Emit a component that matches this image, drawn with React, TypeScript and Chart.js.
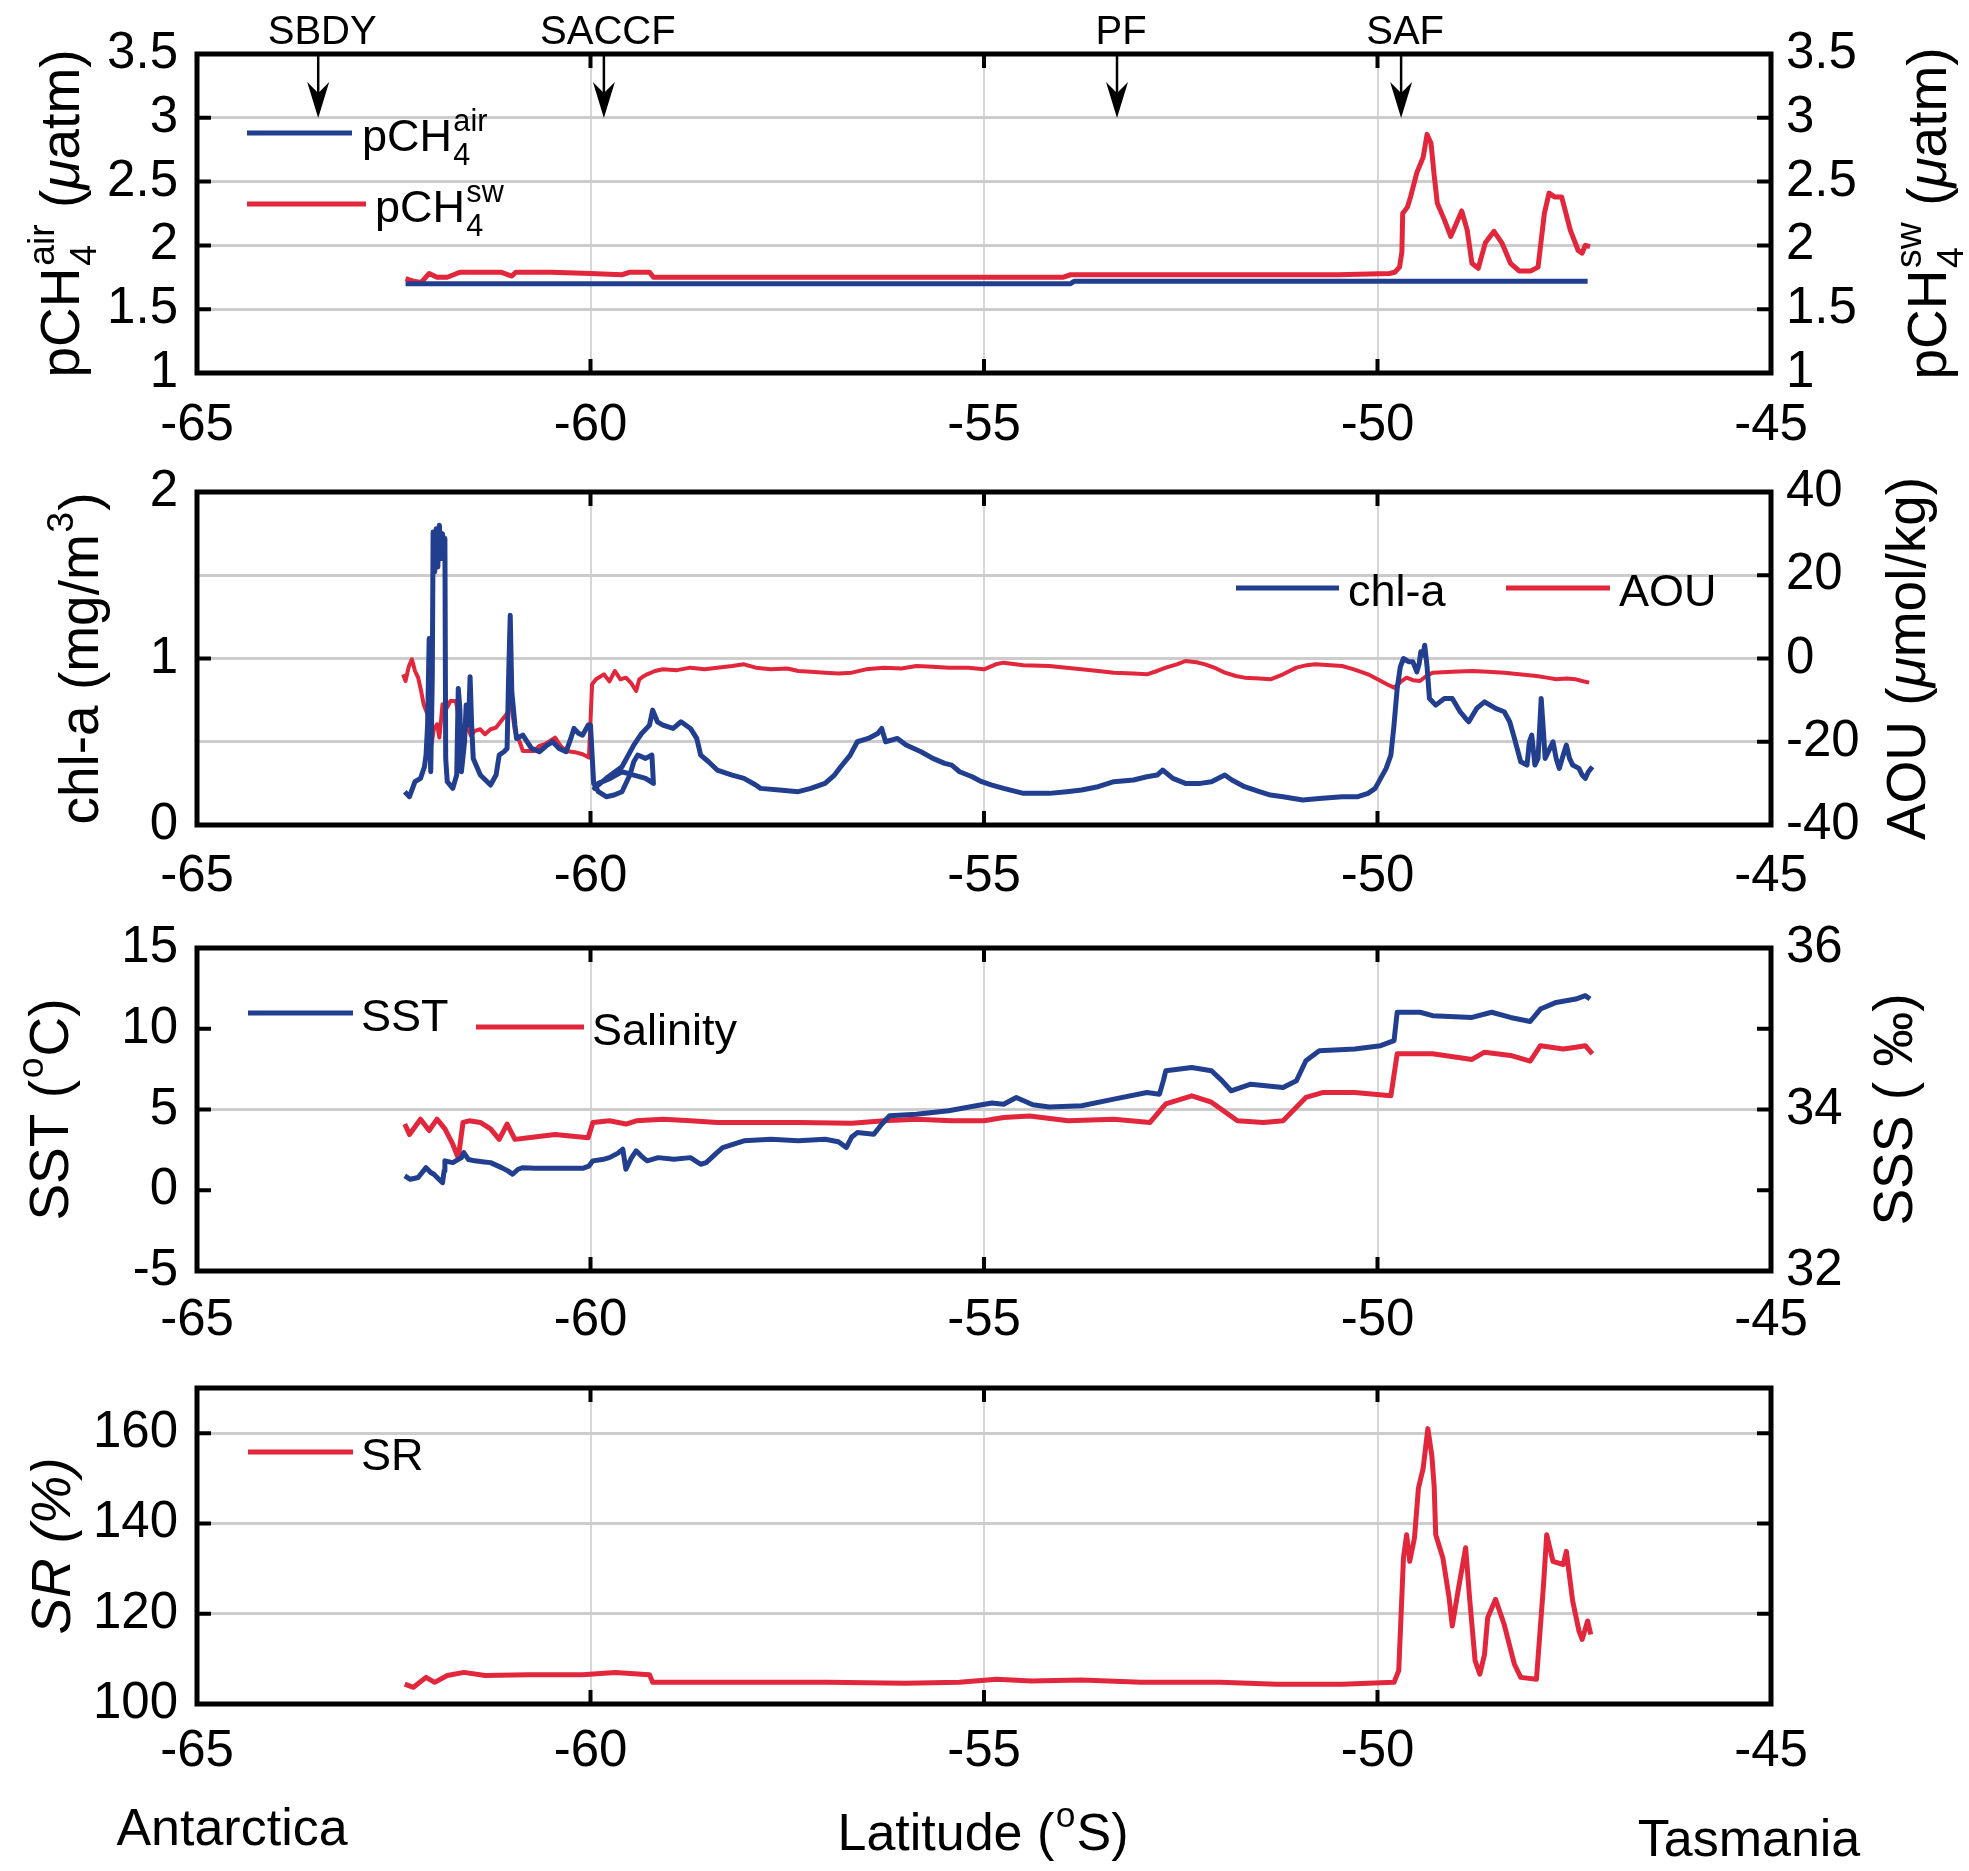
import { useEffect, useRef } from 'react';
import { Chart, registerables } from 'chart.js';

Chart.register(...registerables);

const FONT = '"Liberation Sans", Arial, Helvetica, sans-serif';
const BLUE = '#223f8f';
const RED = '#e2263b';
const GRID_H = '#cccccc';
const GRID_V = '#d6d6d6';

// ---------------- data ----------------
const LAT_AIR = [-62.35, -57.0, -53.9, -53.85, -47.33];
const PCH4_AIR = [1.70, 1.70, 1.70, 1.72, 1.72];

const LAT_SW = [
  -62.35, -62.25, -62.15, -62.05, -61.95, -61.82, -61.70, -61.65, -61.30, -61.14,
  -61.00, -60.95, -60.50, -60.00, -59.60, -59.50, -59.25, -59.20, -58.50, -57.00,
  -55.50, -54.00, -53.90, -52.00, -50.50, -49.85, -49.78, -49.72, -49.69, -49.68,
  -49.62, -49.58, -49.50, -49.42, -49.37, -49.32, -49.28, -49.24, -49.15, -49.07,
  -49.02, -48.93, -48.86, -48.80, -48.72, -48.63, -48.52, -48.42, -48.31, -48.20,
  -48.05, -47.96, -47.88, -47.82, -47.75, -47.66, -47.55, -47.45, -47.40, -47.36,
  -47.30,
];
const PCH4_SW = [
  1.74, 1.72, 1.71, 1.78, 1.75, 1.75, 1.78, 1.79, 1.79, 1.79,
  1.76, 1.79, 1.79, 1.78, 1.77, 1.79, 1.79, 1.75, 1.75, 1.75,
  1.75, 1.75, 1.77, 1.77, 1.77, 1.78, 1.79, 1.83, 1.95, 2.25,
  2.30, 2.38, 2.57, 2.69, 2.87, 2.80, 2.55, 2.33, 2.20, 2.07,
  2.14, 2.27, 2.12, 1.86, 1.82, 2.02, 2.11, 2.02, 1.86, 1.80,
  1.80, 1.83, 2.25, 2.41, 2.38, 2.38, 2.12, 1.96, 1.94, 2.00,
  1.99,
];

const LAT_CHL = [
  -62.36, -62.30, -62.23, -62.16, -62.11, -62.09, -62.07, -62.05, -62.04, -62.03, -62.01,
  -62.00, -61.98, -61.96, -61.94, -61.92, -61.90, -61.88, -61.86, -61.85, -61.84, -61.82,
  -61.75, -61.70, -61.68, -61.66, -61.64, -61.60, -61.58, -61.55, -61.53, -61.51, -61.49,
  -61.40, -61.27, -61.20, -61.16, -61.10, -61.06, -61.04, -61.02, -61.00, -60.96, -60.94,
  -60.86, -60.75, -60.65, -60.55, -60.48, -60.40, -60.31, -60.25, -60.21, -60.15, -60.10,
  -60.03, -60.00,
  -59.96, -59.90, -59.80, -59.70, -59.60, -59.50, -59.45, -59.40, -59.30, -59.22, -59.20,
  -59.30, -59.45, -59.60, -59.75, -59.90, -59.95,
  -59.80, -59.60, -59.45, -59.35, -59.25, -59.21, -59.15, -59.08,
  -58.95, -58.85, -58.73, -58.65, -58.60, -58.50, -58.39, -58.20, -58.05, -57.90,
  -57.84, -57.60, -57.36, -57.20, -57.02, -56.90, -56.82, -56.70, -56.61, -56.47,
  -56.35, -56.30, -56.25, -56.10, -55.99, -55.80, -55.65, -55.50, -55.41, -55.31,
  -55.15, -55.03, -54.90, -54.75, -54.50, -54.17, -53.95, -53.76, -53.55, -53.35,
  -53.10, -52.93, -52.80, -52.73, -52.60, -52.44, -52.25, -52.11, -51.94, -51.85,
  -51.69, -51.50, -51.36, -51.20, -50.95, -50.70, -50.45, -50.25, -50.12, -50.03,
  -49.96, -49.89, -49.83, -49.79, -49.75, -49.71, -49.67, -49.60, -49.55, -49.50,
  -49.47, -49.45, -49.42, -49.40, -49.37, -49.34, -49.26, -49.15, -49.05, -48.95,
  -48.88, -48.84, -48.74, -48.64, -48.50, -48.39, -48.32, -48.26, -48.18, -48.10,
  -48.07, -48.04, -48.00, -47.96, -47.92, -47.89, -47.87, -47.82, -47.77, -47.73,
  -47.69, -47.64, -47.60, -47.56, -47.52, -47.44, -47.40, -47.36, -47.32, -47.27,
];
const CHL_A = [
  0.20, 0.17, 0.26, 0.28, 0.35, 0.42, 0.60, 1.12, 0.50, 0.32, 0.90,
  1.76, 1.52, 1.78, 1.55, 1.80, 1.60, 1.75, 1.65, 1.72, 0.40, 0.26,
  0.22, 0.30, 0.82, 0.70, 0.32, 0.50, 0.72, 0.60, 0.89, 0.60, 0.40,
  0.30, 0.24, 0.30, 0.42, 0.44, 0.46, 0.90, 1.26, 0.80, 0.60, 0.52,
  0.54, 0.46, 0.44, 0.48, 0.50, 0.46, 0.44, 0.52, 0.58, 0.55, 0.54,
  0.60, 0.60,
  0.25, 0.20, 0.17, 0.18, 0.20, 0.30, 0.38, 0.42, 0.40, 0.42, 0.25,
  0.28, 0.30, 0.32, 0.28, 0.25, 0.22,
  0.28, 0.35, 0.48, 0.55, 0.60, 0.69, 0.62, 0.60,
  0.58, 0.62, 0.58, 0.52, 0.42, 0.38, 0.33, 0.30, 0.28, 0.24,
  0.22, 0.21, 0.20, 0.22, 0.25, 0.30, 0.35, 0.42, 0.50, 0.52,
  0.55, 0.58, 0.50, 0.52, 0.48, 0.44, 0.40, 0.37, 0.36, 0.32,
  0.29, 0.26, 0.24, 0.22, 0.19, 0.19, 0.20, 0.21, 0.23, 0.26,
  0.27, 0.29, 0.30, 0.33, 0.28, 0.25, 0.25, 0.26, 0.30, 0.27,
  0.23, 0.20, 0.18, 0.17, 0.15, 0.16, 0.17, 0.17, 0.19, 0.22,
  0.28, 0.34, 0.42, 0.60, 0.82, 0.95, 1.00, 0.98, 0.98, 0.92,
  0.97, 1.04, 1.02, 1.08, 0.95, 0.76, 0.72, 0.76, 0.76, 0.68,
  0.64, 0.62, 0.70, 0.74, 0.70, 0.68, 0.62, 0.52, 0.38, 0.36,
  0.50, 0.54, 0.36, 0.40, 0.76, 0.55, 0.40, 0.45, 0.50, 0.40,
  0.34, 0.42, 0.48, 0.40, 0.36, 0.34, 0.30, 0.28, 0.32, 0.35,
];

const LAT_AOU = [
  -62.38, -62.35, -62.31, -62.27, -62.23, -62.19, -62.15, -62.12, -62.08, -62.05,
  -62.02, -61.99, -61.95, -61.92, -61.88, -61.83, -61.78, -61.71, -61.67, -61.64,
  -61.61, -61.58, -61.52, -61.47, -61.40, -61.34, -61.27, -61.20, -61.10, -61.05,
  -61.03, -61.00, -60.96, -60.90, -60.86, -60.72, -60.65, -60.58, -60.45, -60.38,
  -60.31, -60.20, -60.10, -60.02, -60.00, -59.98, -59.93, -59.83, -59.76, -59.69,
  -59.62, -59.55, -59.48, -59.42, -59.38, -59.32, -59.28, -59.18, -59.08, -58.90,
  -58.73, -58.55, -58.39, -58.20, -58.05, -57.90, -57.71, -57.50, -57.36, -57.20,
  -57.02, -56.85, -56.68, -56.50, -56.27, -56.05, -55.86, -55.65, -55.45, -55.20,
  -55.00, -54.85, -54.75, -54.50, -54.17, -53.95, -53.76, -53.55, -53.35, -53.10,
  -52.93, -52.80, -52.69, -52.55, -52.44, -52.30, -52.19, -52.05, -51.94, -51.80,
  -51.69, -51.50, -51.36, -51.20, -51.03, -50.90, -50.79, -50.60, -50.45, -50.30,
  -50.12, -50.00, -49.88, -49.79, -49.70, -49.63, -49.55, -49.46, -49.38, -49.30,
  -49.05, -48.80, -48.60, -48.39, -48.20, -47.98, -47.85, -47.73, -47.60, -47.48,
  -47.40, -47.31,
];
const AOU = [
  -3.8, -5.4, -2.0, -0.2, -3.0, -4.6, -8.0, -11.0, -13.0, -14.2,
  -20.6, -17.0, -15.8, -19.0, -11.0, -12.0, -10.2, -10.2, -15.0, -23.0,
  -19.0, -15.8, -18.5, -17.4, -17.0, -18.2, -17.0, -16.6, -14.2, -13.0,
  -9.4, -12.0, -17.4, -20.0, -22.2, -22.2, -21.0, -20.6, -19.0, -21.0,
  -22.2, -22.5, -23.0, -23.8, -15.0, -6.2, -5.0, -3.8, -5.5, -3.0,
  -5.0, -4.6, -6.0, -7.8, -5.0, -4.2, -3.8, -3.0, -2.6, -2.8,
  -2.2, -2.6, -2.2, -1.8, -1.4, -2.2, -2.6, -2.4, -3.0, -3.2,
  -3.4, -3.6, -3.4, -2.6, -2.2, -2.4, -1.8, -2.0, -2.2, -2.2,
  -2.6, -1.4, -1.0, -1.6, -1.8, -2.2, -2.6, -3.0, -3.4, -3.6,
  -3.8, -3.0, -2.2, -1.4, -0.6, -0.9, -1.4, -2.4, -3.4, -4.2,
  -4.6, -4.8, -5.0, -3.8, -2.2, -1.6, -1.4, -1.6, -1.8, -2.6,
  -3.8, -5.0, -6.2, -7.0, -5.5, -4.6, -5.2, -5.4, -4.2, -3.4,
  -3.2, -3.0, -3.2, -3.4, -3.8, -4.2, -4.6, -5.0, -4.8, -5.0,
  -5.4, -5.8,
];

const LAT_SST = [
  -62.36, -62.29, -62.19, -62.09, -62.03, -61.99, -61.93, -61.88, -61.86, -61.85,
  -61.75, -61.64, -61.61, -61.55, -61.47, -61.35, -61.27, -61.13, -61.05, -60.99,
  -60.92, -60.86, -60.70, -60.45, -60.20, -60.10, -60.02, -59.97, -59.85, -59.76,
  -59.65, -59.59, -59.55, -59.48, -59.42, -59.35, -59.28, -59.14, -58.94, -58.73,
  -58.60, -58.53, -58.40, -58.32, -58.05, -57.71, -57.36, -57.02, -56.85, -56.75,
  -56.68, -56.61, -56.40, -56.30, -56.20, -55.86, -55.45, -55.10, -54.90, -54.75,
  -54.59, -54.38, -54.17, -53.76, -53.35, -52.93, -52.77, -52.72, -52.69, -52.36,
  -52.11, -51.98, -51.86, -51.61, -51.20, -51.03, -50.91, -50.74, -50.29, -49.96,
  -49.79, -49.75, -49.46, -49.30, -48.80, -48.55, -48.31, -48.06, -47.93, -47.73,
  -47.48, -47.36, -47.30,
];
const SST = [
  0.89, 0.68, 0.79, 1.40, 1.10, 0.99, 0.70, 0.47, 1.20, 1.82,
  1.71, 2.02, 2.33, 1.90, 1.82, 1.75, 1.71, 1.40, 1.20, 0.99,
  1.30, 1.40, 1.36, 1.36, 1.36, 1.36, 1.50, 1.82, 1.90, 2.02,
  2.30, 2.54, 1.30, 2.00, 2.44, 2.10, 1.82, 2.02, 1.92, 2.02,
  1.61, 1.71, 2.30, 2.64, 3.06, 3.16, 3.06, 3.16, 3.00, 2.64,
  3.30, 3.57, 3.47, 4.09, 4.61, 4.71, 4.92, 5.23, 5.40, 5.33,
  5.74, 5.29, 5.16, 5.23, 5.64, 6.05, 5.95, 6.80, 7.40, 7.60,
  7.40, 6.80, 6.16, 6.57, 6.36, 6.78, 8.02, 8.64, 8.74, 8.95,
  9.26, 11.02, 11.02, 10.81, 10.70, 11.02, 10.70, 10.45, 11.22, 11.63,
  11.84, 12.05, 11.84,
];

const LAT_SSS = [
  -62.36, -62.30, -62.16, -62.05, -61.95, -61.85, -61.75, -61.68, -61.62, -61.54,
  -61.40, -61.27, -61.16, -61.06, -60.96, -60.79, -60.45, -60.03, -59.97, -59.76,
  -59.55, -59.42, -59.08, -58.73, -58.39, -58.05, -57.36, -56.68, -56.27, -55.86,
  -55.41, -55.00, -54.75, -54.42, -53.93, -53.35, -52.89, -52.69, -52.36, -52.11,
  -51.78, -51.45, -51.20, -50.91, -50.70, -50.29, -49.83, -49.75, -49.30, -48.80,
  -48.64, -48.31, -48.06, -47.93, -47.64, -47.48, -47.36, -47.27,
];
const SSS = [
  33.82, 33.69, 33.88, 33.74, 33.88, 33.76, 33.57, 33.40, 33.84, 33.86,
  33.84, 33.76, 33.63, 33.82, 33.63, 33.65, 33.69, 33.65, 33.84, 33.86,
  33.82, 33.86, 33.88, 33.86, 33.84, 33.84, 33.84, 33.83, 33.86, 33.88,
  33.86, 33.86, 33.90, 33.92, 33.86, 33.88, 33.84, 34.07, 34.17, 34.09,
  33.86, 33.84, 33.86, 34.15, 34.21, 34.21, 34.17, 34.69, 34.69, 34.62,
  34.71, 34.67, 34.60, 34.79, 34.75, 34.77, 34.79, 34.69,
];

const LAT_SR = [
  -62.36, -62.25, -62.09, -61.98, -61.82, -61.61, -61.34, -60.79, -60.10, -59.69,
  -59.25, -59.21, -58.73, -58.05, -57.00, -56.00, -55.31, -54.84, -54.40, -53.76,
  -53.00, -52.00, -51.28, -50.45, -49.79, -49.73, -49.67, -49.63, -49.59, -49.53,
  -49.48, -49.42, -49.36, -49.31, -49.28, -49.26, -49.17, -49.09, -49.05, -48.97,
  -48.88, -48.83, -48.76, -48.70, -48.64, -48.60, -48.50, -48.39, -48.26, -48.18,
  -47.98, -47.89, -47.85, -47.77, -47.64, -47.60, -47.52, -47.44, -47.40, -47.33,
  -47.29,
];
const SR = [
  104.4, 103.7, 105.9, 104.8, 106.3, 107.0, 106.3, 106.5, 106.5, 107.0,
  106.5, 104.8, 104.8, 104.8, 104.8, 104.6, 104.8, 105.5, 105.1, 105.3,
  104.8, 104.8, 104.4, 104.4, 104.8, 107.4, 132.4, 137.5, 131.6, 136.8,
  147.8, 152.2, 161.0, 155.1, 148.2, 137.5, 132.4, 123.5, 117.3, 125.7,
  134.6, 123.5, 109.6, 106.6, 111.0, 119.1, 123.2, 117.6, 108.8, 105.9,
  105.5, 126.5, 137.5, 131.6, 130.9, 133.8, 122.8, 116.2, 114.3, 118.4,
  115.4,
];

const LAT_MIN = -65;
const LAT_MAX = -45;
const LAT_STEP = 5;
const LAT_GRID = [-60, -55, -50];

const FRONT_NAMES = ['SBDY', 'SACCF', 'PF', 'SAF'];
const FRONT_LATS = [-63.46, -59.83, -53.31, -49.70];

const BOTTOM_LEFT = 'Antarctica';
const BOTTOM_RIGHT = 'Tasmania';

// ---------------- rich text helpers ----------------
type Seg = { t?: string; sup?: string; sub?: string; it?: boolean };

const TICK_SIZE = 51;
const LEG_SIZE = 45;
const TITLE_SIZE = 55;
const W = 1969;
const PLOT_L = 197;
const PLOT_R = 1771;

function setFont(ctx: CanvasRenderingContext2D, size: number, it?: boolean) {
  ctx.font = `${it ? 'italic ' : ''}${size}px ${FONT}`;
}

function segWidth(ctx: CanvasRenderingContext2D, s: Seg, size: number): number {
  if (s.t !== undefined) {
    setFont(ctx, size, s.it);
    return ctx.measureText(s.t).width;
  }
  const sm = size * 0.68;
  setFont(ctx, sm, s.it);
  const a = s.sup ? ctx.measureText(s.sup).width : 0;
  const b = s.sub ? ctx.measureText(s.sub).width : 0;
  return Math.max(a, b) + size * 0.05;
}

function drawRich(ctx: CanvasRenderingContext2D, segs: Seg[], x: number, y: number, size: number, align: 'left' | 'center') {
  const total = segs.reduce((w, s) => w + segWidth(ctx, s, size), 0);
  let cx = align === 'center' ? x - total / 2 : x;
  ctx.textAlign = 'left';
  ctx.textBaseline = 'alphabetic';
  for (const s of segs) {
    const w = segWidth(ctx, s, size);
    if (s.t !== undefined) {
      setFont(ctx, size, s.it);
      ctx.fillText(s.t, cx, y);
    } else {
      setFont(ctx, size * 0.68, s.it);
      if (s.sup) ctx.fillText(s.sup, cx + size * 0.03, y - size * 0.45);
      if (s.sub) ctx.fillText(s.sub, cx + size * 0.03, y + size * 0.3);
    }
    cx += w;
  }
}

function drawRotated(ctx: CanvasRenderingContext2D, segs: Seg[], bx: number, cy: number, size: number) {
  ctx.save();
  ctx.translate(bx, cy);
  ctx.rotate(-Math.PI / 2);
  drawRich(ctx, segs, 0, 0, size, 'center');
  ctx.restore();
}

// ---------------- panel specs ----------------
interface Series {
  name: Seg[];
  color: string;
  lat: number[];
  val: number[];
  axis: 'y' | 'y2';
  width: number;
  legend: [number, number, number, number];
}
interface AxisSpec {
  min: number;
  max: number;
  step: number;
  show: boolean;
  grid: number[];
  label?: (v: number) => string;
  includeBounds?: boolean;
}
interface Panel {
  top: number;
  height: number;
  plotTop: number;
  plotBottom: number;
  xPad: number;
  y: AxisSpec;
  y2: AxisSpec;
  series: Series[];
  leftTitle: Seg[];
  leftX: number;
  rightTitle?: Seg[];
  rightX?: number;
  extra?: 'fronts' | 'bottom';
}

const MU: Seg = { t: '\u03bc', it: true };

const PANELS: Panel[] = [
  {
    top: 0, height: 470, plotTop: 54, plotBottom: 373, xPad: 22,
    y: { min: 1, max: 3.5, step: 0.5, show: true, grid: [1.5, 2, 2.5, 3] },
    y2: { min: 1, max: 3.5, step: 0.5, show: true, grid: [] },
    series: [
      { name: [{ t: 'pCH' }, { sub: '4', sup: 'air' }], color: BLUE, lat: LAT_AIR, val: PCH4_AIR, axis: 'y', width: 5, legend: [247, 352, 133, 362] },
      { name: [{ t: 'pCH' }, { sub: '4', sup: 'sw' }], color: RED, lat: LAT_SW, val: PCH4_SW, axis: 'y', width: 5, legend: [247, 366, 204, 375] },
    ],
    leftTitle: [{ t: 'pCH' }, { sub: '4', sup: 'air' }, { t: ' (' }, MU, { t: 'atm)' }],
    leftX: 79,
    rightTitle: [{ t: 'pCH' }, { sub: '4', sup: 'sw' }, { t: ' (' }, MU, { t: 'atm)' }],
    rightX: 1946,
    extra: 'fronts',
  },
  {
    top: 420, height: 490, plotTop: 492, plotBottom: 825, xPad: 21,
    y: { min: 0, max: 2, step: 1, show: true, grid: [] },
    y2: { min: -40, max: 40, step: 20, show: true, grid: [-20, 0, 20] },
    series: [
      { name: [{ t: 'chl-a' }], color: BLUE, lat: LAT_CHL, val: CHL_A, axis: 'y', width: 5, legend: [1236, 1339, 588, 1348] },
      { name: [{ t: 'AOU' }], color: RED, lat: LAT_AOU, val: AOU, axis: 'y2', width: 4, legend: [1506, 1610, 588, 1619] },
    ],
    leftTitle: [{ t: 'chl-a (mg/m' }, { sup: '3' }, { t: ')' }],
    leftX: 98,
    rightTitle: [{ t: 'AOU (' }, MU, { t: 'mol/kg)' }],
    rightX: 1925,
  },
  {
    top: 876, height: 474, plotTop: 948, plotBottom: 1271, xPad: 19,
    y: { min: -5, max: 15, step: 5, show: true, grid: [] },
    y2: { min: 32, max: 36, step: 1, show: true, grid: [34], label: (v) => (Math.round(v) % 2 === 0 ? String(v) : '') },
    series: [
      { name: [{ t: 'SST' }], color: BLUE, lat: LAT_SST, val: SST, axis: 'y', width: 5, legend: [248, 353, 1013, 361] },
      { name: [{ t: 'Salinity' }], color: RED, lat: LAT_SSS, val: SSS, axis: 'y2', width: 5, legend: [476, 584, 1027, 592] },
    ],
    leftTitle: [{ t: 'SST (' }, { sup: 'o' }, { t: 'C)' }],
    leftX: 68,
    rightTitle: [{ t: 'SSS ( \u2030)' }],
    rightX: 1912,
  },
  {
    top: 1316, height: 555, plotTop: 1388, plotBottom: 1704, xPad: 17,
    y: { min: 100, max: 170, step: 20, show: true, grid: [120, 140, 160], includeBounds: false },
    y2: { min: 100, max: 170, step: 20, show: false, grid: [], includeBounds: false },
    series: [
      { name: [{ t: 'SR' }], color: RED, lat: LAT_SR, val: SR, axis: 'y', width: 5, legend: [248, 353, 1452, 361] },
    ],
    leftTitle: [{ t: 'SR (%)', it: true }],
    leftX: 70,
    extra: 'bottom',
  },
];

const near = (arr: number[], v: number) => arr.some((a) => Math.abs(a - v) < 1e-6);
const fmt = (v: number) => String(Math.round(v * 100) / 100);

function decorPlugin(p: Panel) {
  return {
    id: 'decor',
    afterDraw(chart: any) {
      const ctx = chart.ctx as CanvasRenderingContext2D;
      const a = chart.chartArea;
      const off = p.top;
      const TL = 14;
      ctx.save();
      ctx.strokeStyle = '#000';
      ctx.fillStyle = '#000';
      ctx.lineCap = 'butt';
      ctx.lineWidth = 4;
      ctx.beginPath();
      const xs = chart.scales.x;
      for (const t of xs.ticks) {
        const px = xs.getPixelForValue(t.value);
        ctx.moveTo(px, a.bottom);
        ctx.lineTo(px, a.bottom - TL);
        ctx.moveTo(px, a.top);
        ctx.lineTo(px, a.top + TL);
      }
      const ys = chart.scales.y;
      for (const t of ys.ticks) {
        const py = ys.getPixelForValue(t.value);
        ctx.moveTo(a.left, py);
        ctx.lineTo(a.left + TL, py);
      }
      const y2 = chart.scales.y2;
      for (const t of y2.ticks) {
        const py = y2.getPixelForValue(t.value);
        ctx.moveTo(a.right, py);
        ctx.lineTo(a.right - TL, py);
      }
      ctx.stroke();
      ctx.lineWidth = 5;
      ctx.strokeRect(a.left, a.top, a.right - a.left, a.bottom - a.top);

      // legends
      chart.data.datasets.forEach((ds: any, i: number) => {
        const s = p.series[i];
        const [x1, x2, ly, tx] = s.legend;
        const yy = ly - off;
        ctx.strokeStyle = ds.borderColor;
        ctx.lineWidth = 5;
        ctx.beginPath();
        ctx.moveTo(x1, yy);
        ctx.lineTo(x2, yy);
        ctx.stroke();
        ctx.fillStyle = '#000';
        drawRich(ctx, s.name, tx, yy + LEG_SIZE * 0.36 + 2, LEG_SIZE, 'left');
      });

      // axis titles
      ctx.fillStyle = '#000';
      const cy = (a.top + a.bottom) / 2;
      drawRotated(ctx, p.leftTitle, p.leftX, cy, TITLE_SIZE);
      if (p.rightTitle && p.rightX) drawRotated(ctx, p.rightTitle, p.rightX, cy, TITLE_SIZE);

      if (p.extra === 'fronts') {
        FRONT_LATS.forEach((lat, i) => {
          const px = xs.getPixelForValue(lat);
          ctx.strokeStyle = '#000';
          ctx.lineWidth = 2.5;
          ctx.beginPath();
          ctx.moveTo(px, 52 - off);
          ctx.lineTo(px, 100 - off);
          ctx.stroke();
          ctx.beginPath();
          ctx.moveTo(px - 11, 82 - off);
          ctx.lineTo(px, 93 - off);
          ctx.lineTo(px + 11, 82 - off);
          ctx.lineTo(px, 118 - off);
          ctx.closePath();
          ctx.fill();
          setFont(ctx, 40);
          ctx.textAlign = 'center';
          ctx.textBaseline = 'alphabetic';
          ctx.fillText(FRONT_NAMES[i], px + 4, 44 - off);
        });
      }
      if (p.extra === 'bottom') {
        const bs = 52;
        setFont(ctx, bs);
        ctx.textAlign = 'center';
        ctx.textBaseline = 'alphabetic';
        ctx.fillText(BOTTOM_LEFT, 232, 1845 - off);
        ctx.fillText(BOTTOM_RIGHT, 1749, 1856 - off);
        drawRich(ctx, [{ t: 'Latitude (' }, { sup: 'o' }, { t: 'S)' }], 983, 1850 - off, bs, 'center');
      }
      ctx.restore();
    },
  };
}

function yAxis(spec: AxisSpec, position: 'left' | 'right', width: number, pad: number) {
  return {
    type: 'linear',
    position,
    min: spec.min,
    max: spec.max,
    afterFit: (scale: any) => {
      scale.width = width;
    },
    ticks: {
      stepSize: spec.step,
      autoSkip: false,
      includeBounds: spec.includeBounds !== false,
      display: spec.show,
      padding: pad,
      color: '#000',
      font: { family: FONT, size: TICK_SIZE },
      callback: (v: any) => (spec.label ? spec.label(Number(v)) : fmt(Number(v))),
    },
    grid: {
      drawTicks: false,
      lineWidth: 3,
      color: (c: any) => (c.tick && near(spec.grid, c.tick.value) ? GRID_H : 'rgba(0,0,0,0)'),
    },
    border: { display: false },
  };
}

function buildChart(canvas: HTMLCanvasElement, p: Panel) {
  const padTop = p.plotTop - p.top;
  const xH = p.top + p.height - p.plotBottom;
  return new Chart(canvas, {
    type: 'line',
    data: {
      datasets: p.series.map((s) => ({
        label: s.name.map((g) => g.t ?? g.sub ?? '').join(''),
        data: s.lat.map((x, i) => ({ x, y: s.val[i] })),
        borderColor: s.color,
        backgroundColor: s.color,
        borderWidth: s.width,
        pointRadius: 0,
        tension: 0,
        fill: false,
        yAxisID: s.axis,
        borderJoinStyle: 'round',
      })),
    },
    options: {
      animation: false,
      responsive: false,
      events: [],
      layout: { padding: { top: padTop, bottom: 0, left: 0, right: 0 } },
      plugins: { legend: { display: false }, tooltip: { enabled: false } },
      scales: {
        x: {
          type: 'linear',
          position: 'bottom',
          min: LAT_MIN,
          max: LAT_MAX,
          afterFit: (scale: any) => {
            scale.height = xH;
          },
          ticks: {
            stepSize: LAT_STEP,
            autoSkip: false,
            maxRotation: 0,
            padding: p.xPad,
            color: '#000',
            font: { family: FONT, size: TICK_SIZE },
            callback: (v: any) => String(v),
          },
          grid: {
            drawTicks: false,
            lineWidth: 2,
            color: (c: any) => (c.tick && near(LAT_GRID, c.tick.value) ? GRID_V : 'rgba(0,0,0,0)'),
          },
          border: { display: false },
        },
        y: yAxis(p.y, 'left', PLOT_L, 19),
        y2: yAxis(p.y2, 'right', W - PLOT_R, 15),
      },
    } as any,
    plugins: [decorPlugin(p)],
  });
}

export default function App() {
  const refs = useRef<(HTMLCanvasElement | null)[]>([]);
  useEffect(() => {
    const charts = PANELS.map((p, i) => buildChart(refs.current[i] as HTMLCanvasElement, p));
    return () => charts.forEach((c) => c.destroy());
  }, []);
  return (
    <div style={{ position: 'absolute', left: 0, top: 0, width: W, height: 1871, background: '#fff', overflow: 'hidden' }}>
      {PANELS.map((p, i) => (
        <canvas
          key={i}
          ref={(el) => {
            refs.current[i] = el;
          }}
          width={W}
          height={p.height}
          style={{ position: 'absolute', left: 0, top: p.top }}
        />
      ))}
    </div>
  );
}
